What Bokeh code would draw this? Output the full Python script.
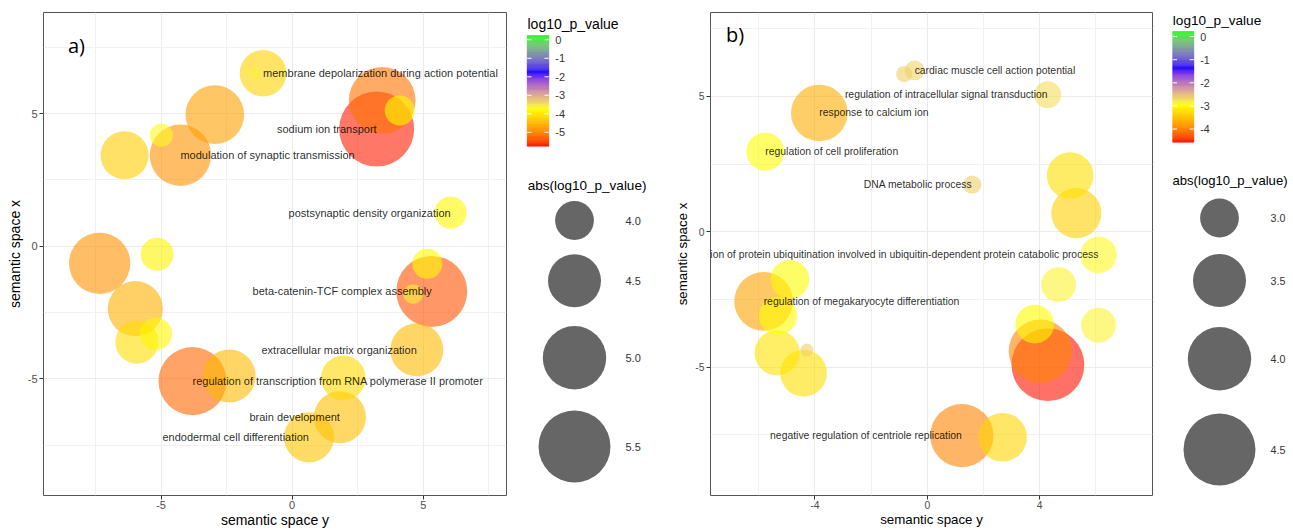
import numpy as np
from bokeh.plotting import figure
from bokeh.models import Range1d, FixedTicker, LinearColorMapper, ColumnDataSource
from bokeh.layouts import row
from bokeh.embed import file_html
from bokeh.resources import INLINE
from bokeh.core.properties import value

FONT = "Liberation Sans"

# ---------------- data: panel a ----------------
sem_y_a = [-1.11, -1.40, 3.43, 3.22, 4.10, -2.95, -4.99, -6.39, -4.26, 6.04, -7.34, -5.15,
           5.15, 5.32, 4.61, -5.98, -5.92, -5.19, 4.75, -3.80, -2.40, 1.95, 1.82, 0.64]
sem_x_a = [6.52, 6.54, 5.50, 4.42, 5.12, 4.96, 4.19, 3.43, 3.43, 1.27, -0.64, -0.30,
           -0.66, -1.70, -1.80, -2.35, -3.61, -3.30, -3.90, -5.08, -4.89, -4.96, -6.44, -7.20]
logp_a = [-4.25, -3.645, -5.18, -5.70, -3.80, -4.76, -3.70, -4.30, -4.89, -3.84, -4.89, -3.86,
          -3.80, -5.44, -3.67, -4.59, -4.13, -3.84, -4.50, -5.26, -4.50, -4.18, -4.46, -4.38]
labels_a = ["membrane depolarization during action potential", "sodium ion transport",
            "modulation of synaptic transmission", "postsynaptic density organization",
            "beta-catenin-TCF complex assembly", "extracellular matrix organization",
            "regulation of transcription from RNA polymerase II promoter", "brain development",
            "endodermal cell differentiation"]
label_bubble_a = [0, 3, 8, 9, 13, 18, 19, 22, 23]
label_align_a = ["left", "right", "left", "right", "right", "right", "left", "right", "right"]
ticks_a_x = [-5, 0, 5]
ticks_a_y = [-5, 0, 5]
cbar_ticks_a = [0, -1, -2, -3, -4, -5]
size_breaks_a = [4.0, 4.5, 5.0, 5.5]

# ---------------- data: panel b ----------------
sem_y_b = [-0.82, -0.45, 4.28, -3.84, -5.76, 1.60, 5.08, 5.30, 6.09, 4.67, -4.89,
           -5.82, -5.31, -5.34, -4.28, -4.40, 3.82, 6.09, 4.02, 4.29, 1.23, 2.68]
sem_x_b = [5.83, 5.96, 5.06, 4.39, 2.96, 1.74, 2.08, 0.69, -0.85, -1.95, -1.76,
           -2.57, -3.10, -4.47, -4.37, -5.22, -3.41, -3.45, -4.41, -4.91, -7.53, -7.59]
logp_b = [-2.65, -2.67, -2.75, -3.66, -2.98, -2.66, -3.25, -3.38, -2.94, -2.90, -3.00,
          -3.76, -2.98, -3.20, -2.645, -3.25, -3.00, -2.90, -3.99, -4.55, -3.99, -3.32]
labels_b = ["cardiac muscle cell action potential", "regulation of intracellular signal transduction",
            "response to calcium ion", "regulation of cell proliferation", "DNA metabolic process",
            "regulation of protein ubiquitination involved in ubiquitin-dependent protein catabolic process",
            "regulation of megakaryocyte differentiation", "negative regulation of centriole replication"]
label_bubble_b = [1, 2, 3, 4, 5, 8, 11, 20]
label_align_b = ["left", "right", "left", "left", "right", "right", "left", "right"]
ticks_b_x = [-4, 0, 4]
ticks_b_y = [-5, 0, 5]
cbar_ticks_b = [0, -1, -2, -3, -4]
size_breaks_b = [3.0, 3.5, 4.0, 4.5]

# layout constants (pixels)
H = 530
TOP = 12
BOTTOM = 35


# ---------------- colour ramp (CIELAB interpolation, like ggplot) ----------------
def lab_palette(stops, n=256):
    M = np.array([[0.4124564, 0.3575761, 0.1804375],
                  [0.2126729, 0.7151522, 0.0721750],
                  [0.0193339, 0.1191920, 0.9503041]])
    Minv = np.linalg.inv(M)
    wp = np.array([0.95047, 1.0, 1.08883])
    d = 6 / 29

    def hex2rgb(h):
        return np.array([int(h[i:i + 2], 16) for i in (1, 3, 5)]) / 255.0

    def to_lin(c):
        return np.where(c <= 0.04045, c / 12.92, ((c + 0.055) / 1.055) ** 2.4)

    def from_lin(c):
        c = np.clip(c, 0, None)
        return np.where(c <= 0.0031308, 12.92 * c, 1.055 * np.power(c, 1 / 2.4) - 0.055)

    def f(t):
        return np.where(t > d ** 3, np.cbrt(t), t / (3 * d * d) + 4 / 29)

    def finv(t):
        return np.where(t > d, t ** 3, 3 * d * d * (t - 4 / 29))

    def to_lab(rgb):
        fx, fy, fz = f(M @ to_lin(rgb) / wp)
        return np.array([116 * fy - 16, 500 * (fx - fy), 200 * (fy - fz)])

    def from_lab(lab):
        L, a, b = lab
        fy = (L + 16) / 116
        xyz = np.array([finv(fy + a / 500), finv(fy), finv(fy - b / 200)]) * wp
        return np.clip(from_lin(Minv @ xyz), 0, 1)

    labs = [to_lab(hex2rgb(h)) for h in stops]
    out = []
    for i in range(n):
        t = i / (n - 1) * (len(stops) - 1)
        k = min(int(t), len(stops) - 2)
        u = t - k
        r, g, b = (from_lab(labs[k] * (1 - u) + labs[k + 1] * u) * 255).round().astype(int)
        out.append("#%02x%02x%02x" % (r, g, b))
    return out


PALETTE = lab_palette(["#FF0000", "#FFFF00", "#0000FF", "#00FF00"])


def size_scale(v, vmin, a=13.0, b=43.3):
    return a + b * np.sqrt(np.maximum(np.asarray(v, dtype=float) - vmin, 0))


def hy(t):
    return str(t).replace("\u2212", "-")


def panel(sx, sy, logp, labels, lab_idx, lab_align, xr, yr, xt, xminor, yt, yminor,
          mapper, tag, tag_xy, width, mb_left, mb_right, fs):
    absv = np.abs(np.array(logp))
    vmin = absv.min()
    order = np.argsort(-absv)
    src = ColumnDataSource(dict(
        x=np.array(sx)[order], y=np.array(sy)[order], logp=np.array(logp)[order],
        d=size_scale(absv[order], vmin)))
    p = figure(width=width, height=H, x_range=Range1d(*xr), y_range=Range1d(*yr),
               output_backend="svg", toolbar_location=None,
               min_border_left=mb_left, min_border_right=mb_right,
               min_border_top=TOP, min_border_bottom=BOTTOM,
               background_fill_color="white", border_fill_color="white",
               outline_line_color="#555555", outline_line_width=1)
    for ax, ticks, minor, title in ((p.xaxis, xt, xminor, "semantic space y"),
                                     (p.yaxis, yt, yminor, "semantic space x")):
        ax.ticker = FixedTicker(ticks=ticks, minor_ticks=minor)
        ax.major_label_overrides = {t: hy(t) for t in ticks}
        ax.axis_line_color = None
        ax.major_tick_line_color = "#333333"
        ax.major_tick_out = 4
        ax.major_tick_in = 0
        ax.minor_tick_line_color = None
        ax.major_label_text_font = FONT
        ax.major_label_text_font_size = "%.1fpx" % (11 * fs)
        ax.major_label_text_color = "#4D4D4D"
        ax.axis_label = title
        ax.axis_label_text_font = FONT
        ax.axis_label_text_font_size = "%.1fpx" % (14 * fs)
        ax.axis_label_text_font_style = "normal"
        ax.axis_label_text_color = "black"
    p.xaxis.major_label_standoff = 1
    p.xaxis.axis_label_standoff = 0
    p.yaxis.major_label_standoff = 2
    p.yaxis.axis_label_standoff = 2
    p.xgrid.ticker = FixedTicker(ticks=xt, minor_ticks=xminor)
    p.ygrid.ticker = FixedTicker(ticks=yt, minor_ticks=yminor)
    for g in (p.xgrid, p.ygrid):
        g.grid_line_color = "#EBEBEB"
        g.grid_line_width = 1
        g.minor_grid_line_color = "#F1F1F1"
        g.minor_grid_line_width = 1

    p.scatter("x", "y", size="d", source=src, marker="circle",
              fill_color={"field": "logp", "transform": mapper},
              fill_alpha=0.6, line_color=None)

    for align in ("left", "right"):
        sel = [i for i, a in enumerate(lab_align) if a == align]
        p.text(x=[sx[lab_idx[i]] for i in sel], y=[sy[lab_idx[i]] for i in sel],
               text=[labels[i] for i in sel], text_align=align, text_baseline="middle",
               text_font=value(FONT), text_font_size="%.1fpx" % (11 * fs),
               text_color="black", text_alpha=0.85)

    p.text(x=[tag_xy[0]], y=[tag_xy[1]], text=[tag], text_align="left", text_baseline="middle",
           text_font=value("Open Sans"), text_font_size="20px", text_color="black")
    return p


def legend_fig(x0, x1, low, high, cb_ticks, bar_x, bar_y, cb_title_xy,
               breaks, vmin, title_xy, circ_x, circ_y, lab_x, fs):
    # frame coordinates == page pixels
    lg = figure(width=x1 - x0, height=H, x_range=Range1d(x0, x1), y_range=Range1d(H - BOTTOM, TOP),
                output_backend="svg", toolbar_location=None, x_axis_type=None, y_axis_type=None,
                min_border_left=0, min_border_right=0, min_border_top=TOP, min_border_bottom=BOTTOM,
                outline_line_color=None, background_fill_color="white", border_fill_color="white")
    lg.grid.visible = False

    # colour bar
    (bx0, bx1), (by0, by1) = bar_x, bar_y
    nseg = 120
    edges = np.linspace(high, low, nseg + 1)
    mids = (edges[:-1] + edges[1:]) / 2
    idx = np.clip(((mids - low) / (high - low) * len(PALETTE)).astype(int), 0, len(PALETTE) - 1)
    cols = [PALETTE[i] for i in idx]
    to_y = lambda v: by0 + (high - np.asarray(v, dtype=float)) / (high - low) * (by1 - by0)
    lg.quad(left=bx0, right=bx1, top=to_y(edges[:-1]), bottom=to_y(edges[1:]),
            fill_color=cols, line_color=cols, line_width=0.6)
    ty = to_y(cb_ticks)
    tl = (bx1 - bx0) / 5
    lg.segment(x0=[bx0] * len(ty), x1=[bx0 + tl] * len(ty), y0=ty, y1=ty,
               line_color="white", line_width=1)
    lg.segment(x0=[bx1 - tl] * len(ty), x1=[bx1] * len(ty), y0=ty, y1=ty,
               line_color="white", line_width=1)
    lg.text(x=[bx1 + 6.5] * len(ty), y=ty, text=[hy(t) for t in cb_ticks], text_align="left",
            text_baseline="middle", text_font=value(FONT), text_font_size="%.1fpx" % (11 * fs),
            text_color="#333333")
    lg.text(x=[cb_title_xy[0]], y=[cb_title_xy[1]], text=["log10_p_value"], text_align="left",
            text_baseline="middle", text_font=value(FONT), text_font_size="%.1fpx" % (14 * fs),
            text_color="black")

    # size legend
    lg.text(x=[title_xy[0]], y=[title_xy[1]], text=["abs(log10_p_value)"], text_align="left",
            text_baseline="middle", text_font=value(FONT), text_font_size="%.1fpx" % (13.5 * fs),
            text_color="black")
    lg.scatter(x=[circ_x] * len(breaks), y=circ_y, size=list(size_scale(breaks, vmin)),
               marker="circle", fill_color="black", fill_alpha=0.6, line_color=None)
    lg.text(x=[lab_x] * len(breaks), y=circ_y, text=["%.1f" % b for b in breaks],
            text_align="left", text_baseline="middle", text_font=value(FONT),
            text_font_size="%.1fpx" % (11 * fs), text_color="#333333")
    return lg


mapper_a = LinearColorMapper(palette=PALETTE, low=-5.75, high=0.23)
mapper_b = LinearColorMapper(palette=PALETTE, low=-4.57, high=0.22)

pa = panel(sem_y_a, sem_x_a, logp_a, labels_a, label_bubble_a, label_align_a,
           (-9.48, 8.17), (-9.39, 8.81), ticks_a_x, [-7.5, -2.5, 2.5, 7.5],
           ticks_a_y, [-7.5, -2.5, 2.5, 7.5], mapper_a, "a)", (-8.55, 7.57),
           width=515, mb_left=43, mb_right=9, fs=1.0)
la = legend_fig(515, 670, -5.75, 0.23, cbar_ticks_a, (526.7, 548.3), (35, 145.7), (527, 23),
                size_breaks_a, float(np.min(np.abs(logp_a))), (527.3, 184.5), 574,
                [220, 280.3, 357.3, 446], 625, fs=1.0)

pb = panel(sem_y_b, sem_x_b, logp_b, labels_b, label_bubble_b, label_align_b,
           (-7.71, 8.01), (-9.74, 8.10), ticks_b_x, [-6, -2, 2, 6],
           ticks_b_y, [-7.5, -2.5, 2.5, 7.5], mapper_b, "b)", (-7.16, 7.27),
           width=492, mb_left=40, mb_right=10, fs=0.95)
lb = legend_fig(1162, 1293, -4.57, 0.22, cbar_ticks_b, (1172.3, 1193.3), (31, 141.7), (1172.3, 19.5),
                size_breaks_b, float(np.min(np.abs(logp_b))), (1172, 180), 1219,
                [217.5, 280, 358.3, 449], 1270, fs=0.97)

layout = row(pa, la, pb, lb)
open("out.html", "w").write(file_html(layout, INLINE))
